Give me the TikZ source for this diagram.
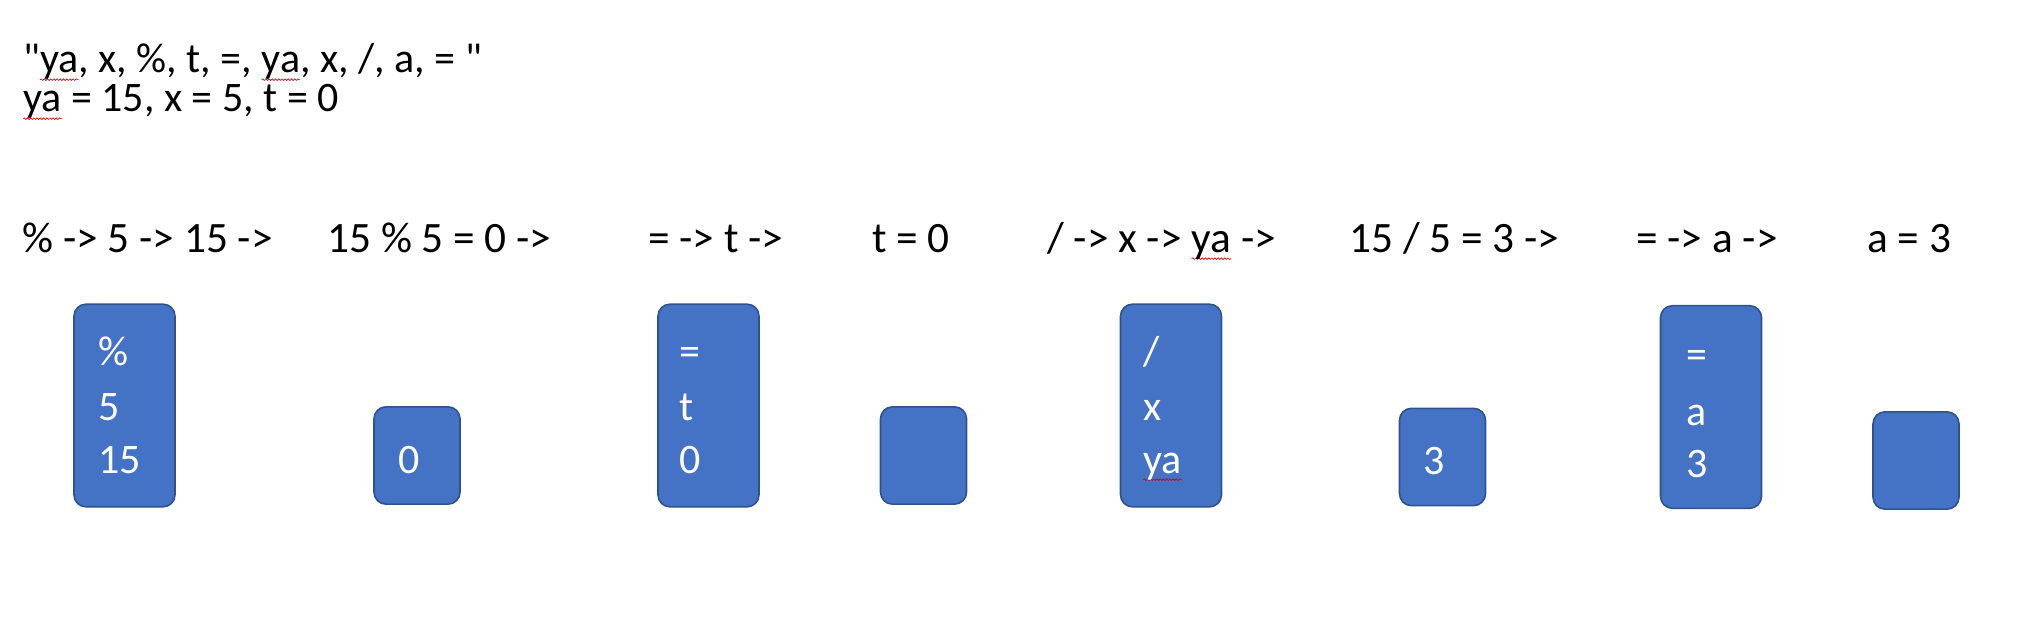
\documentclass[tikz,border=0pt]{standalone}
\usepackage{fontspec}
\setmainfont{Carlito}[Ligatures=TeXOff]
\usetikzlibrary{decorations.pathmorphing}
\newlength\wavywd
\newcommand\wavyword[1]{\settowidth\wavywd{#1}\rlap{\tikz[baseline=0pt,overlay]\draw[red!85!black,line width=0.5pt,decorate,decoration={snake,amplitude=0.6pt,segment length=2.4pt}] (0pt,-5pt) -- (\wavywd,-5pt);}#1}
\newcommand\dq{\char34\relax}
\definecolor{boxfill}{HTML}{4472C4}
\definecolor{boxline}{HTML}{2F528F}
\tikzset{
  txt/.style={anchor=base west, inner sep=0pt, font=\fontsize{31.5}{37}\selectfont, text=black},
  rowtxt/.style={txt, font=\fontsize{32.5}{39}\selectfont},
  wtxt/.style={txt, text=white},
  stackbox/.style={draw=boxline, fill=boxfill, line width=1.2pt, rounded corners=9pt, minimum width=75.75pt, minimum height=152pt, inner sep=0pt},
  smallbox/.style={draw=boxline, fill=boxfill, line width=1.2pt, rounded corners=9pt, minimum width=64.5pt, minimum height=73pt, inner sep=0pt}
}
\begin{document}
\begin{tikzpicture}[x=0.75pt,y=-0.75pt]
\useasboundingbox (0,0) rectangle (2044,624);
% header lines
\node[txt] (h1) at (23,73) {\dq\wavyword{ya}, x, \%, t, =, \wavyword{ya}, x, /, a, = \dq};
\node[txt] (h2) at (23,112) {\wavyword{ya} = 15, x = 5, t = 0};
% step texts
\node[rowtxt] (t1) at (22,252) {\% -> 5 -> 15 ->};
\node[rowtxt] (t2) at (327,252) {15 \% 5 = 0 ->};
\node[rowtxt] (t3) at (648,252) {= -> t ->};
\node[rowtxt] (t4) at (872,252) {t = 0};
\node[rowtxt] (t5) at (1047,252) {/ -> x -> \wavyword{ya} ->};
\node[rowtxt] (t6) at (1349,252) {15 / 5 = 3 ->};
\node[rowtxt] (t7) at (1636,252) {= -> a ->};
\node[rowtxt] (t8) at (1867,252) {a = 3};
% boxes
\node[stackbox] (b1) at (124.5,405.5) {};
\node[smallbox] (b2) at (417,455.5) {};
\node[stackbox] (b3) at (708.5,405.5) {};
\node[smallbox] (b4) at (923.5,455.5) {};
\node[stackbox] (b5) at (1171,405.5) {};
\node[smallbox] (b6) at (1442.5,457) {};
\node[stackbox] (b7) at (1711,407) {};
\node[smallbox] (b8) at (1916,460.5) {};
% box contents
\node[wtxt] (b1a) at (98,365) {\%};
\node[wtxt] (b1b) at (98,420) {5};
\node[wtxt] (b1c) at (98,473) {15};
\node[wtxt] (b2a) at (398,473) {0};
\node[wtxt] (b3a) at (679,365) {=};
\node[wtxt] (b3b) at (679,420) {t};
\node[wtxt] (b3c) at (679,473) {0};
\node[wtxt] (b5a) at (1143,365) {/};
\node[wtxt] (b5b) at (1143,420) {x};
\node[wtxt] (b5c) at (1143,473) {\wavyword{ya}};
\node[wtxt] (b6a) at (1423,474) {3};
\node[wtxt] (b7a) at (1686,368) {=};
\node[wtxt] (b7b) at (1686,425) {a};
\node[wtxt] (b7c) at (1686,477) {3};
\end{tikzpicture}
\end{document}
